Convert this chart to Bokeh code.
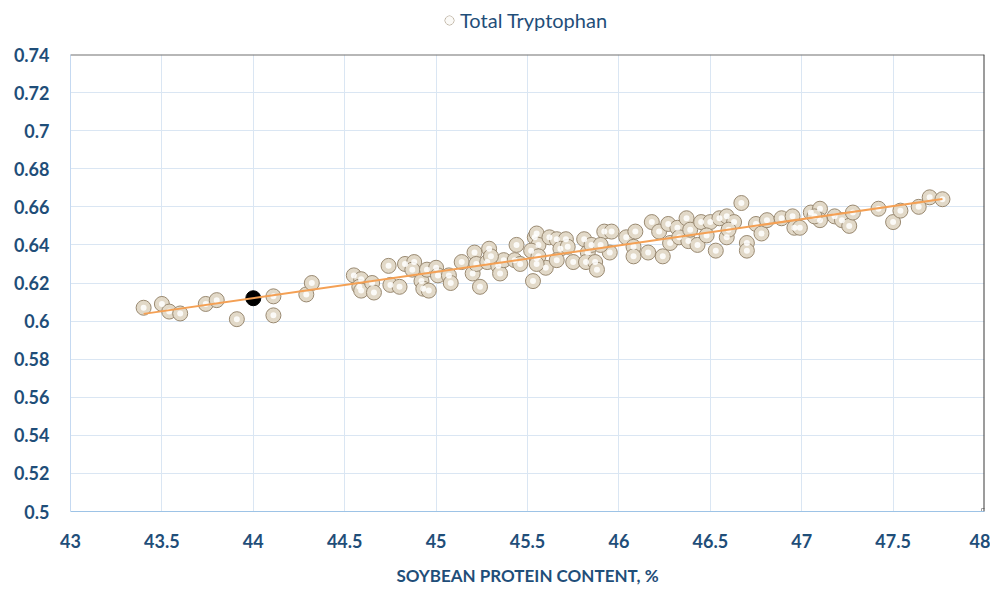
from bokeh.plotting import figure
from bokeh.models import FixedTicker, Span, Legend, LegendItem
from bokeh.layouts import column
from bokeh.embed import file_html
from bokeh.resources import INLINE
import numpy as np

# ---- data ----
protein = [
    43.40, 43.50, 43.54, 43.60, 43.74, 43.80, 43.91, 44.11, 44.11, 44.29, 44.32,
    44.55, 44.59, 44.58, 44.59, 44.65, 44.66, 44.74, 44.75, 44.80, 44.83, 44.88,
    44.87, 44.92, 44.93, 44.96, 44.95, 45.00, 45.01, 45.07, 45.08, 45.14, 45.20,
    45.21, 45.22, 45.24, 45.29, 45.28, 45.34, 45.35, 45.37, 45.43, 45.44, 45.46,
    45.53, 45.54, 45.55, 45.56, 45.55, 45.60, 45.30, 45.52, 45.56, 45.55, 45.62,
    45.66, 45.71, 45.68, 45.66, 45.72, 45.75, 45.81, 45.83, 45.85, 45.82, 45.87,
    45.88, 45.92, 45.96, 45.95, 45.90, 46.04, 46.09, 46.08, 46.08, 46.16, 46.24,
    46.18, 46.22, 46.27, 46.28, 46.32, 46.33, 46.37, 46.38, 46.43, 46.39, 46.45,
    46.50, 46.48, 46.53, 46.55, 46.59, 46.59, 46.63, 46.60, 46.67, 46.70, 46.70,
    46.75, 46.78, 46.81, 46.89, 46.95, 46.96, 46.99, 47.05, 47.10, 47.10, 47.07,
    47.18, 47.22, 47.26, 47.28, 47.42, 47.50, 47.54, 47.64, 47.70, 47.77,
]
tryptophan = [
    0.607, 0.609, 0.605, 0.604, 0.609, 0.611, 0.601, 0.613, 0.603, 0.614, 0.620,
    0.624, 0.622, 0.618, 0.616, 0.620, 0.615, 0.629, 0.619, 0.618, 0.630, 0.631,
    0.627, 0.621, 0.617, 0.616, 0.627, 0.628, 0.624, 0.624, 0.620, 0.631, 0.625,
    0.636, 0.630, 0.618, 0.638, 0.631, 0.629, 0.625, 0.632, 0.632, 0.640, 0.630,
    0.621, 0.644, 0.646, 0.640, 0.633, 0.628, 0.634, 0.637, 0.634, 0.630, 0.644,
    0.643, 0.643, 0.638, 0.632, 0.639, 0.631, 0.643, 0.636, 0.640, 0.631, 0.631,
    0.627, 0.647, 0.647, 0.636, 0.640, 0.644, 0.647, 0.639, 0.634, 0.636, 0.634,
    0.652, 0.647, 0.651, 0.641, 0.649, 0.644, 0.654, 0.642, 0.640, 0.648, 0.652,
    0.652, 0.645, 0.637, 0.654, 0.655, 0.644, 0.652, 0.648, 0.662, 0.641, 0.637,
    0.651, 0.646, 0.653, 0.654, 0.655, 0.649, 0.649, 0.657, 0.659, 0.653, 0.655,
    0.655, 0.653, 0.650, 0.657, 0.659, 0.652, 0.658, 0.660, 0.665, 0.664,
]
highlight_protein = [44.00]
highlight_tryptophan = [0.612]

series_name = "Total Tryptophan"
x_title = "SOYBEAN PROTEIN CONTENT, %"
x_tick_labels = ["43", "43.5", "44", "44.5", "45", "45.5", "46", "46.5", "47", "47.5", "48"]
y_tick_labels = ["0.5", "0.52", "0.54", "0.56", "0.58", "0.6", "0.62", "0.64",
                 "0.66", "0.68", "0.7", "0.72", "0.74"]

x_ticks = [int(s) if "." not in s else float(s) for s in x_tick_labels]
y_ticks = [float(s) for s in y_tick_labels]

NAVY = "#1F4E79"
FONT = "Lato"
BEAD = dict(fill_color="#E2D9C8", line_color="#9A8A72", line_width=1)
SHINE = dict(fill_color="#FFFFFF", fill_alpha=0.85, line_color=None)

# ---------------- main chart ----------------
p = figure(width=990, height=548, x_range=(43, 48), y_range=(0.5, 0.74),
           output_backend="svg", toolbar_location=None,
           min_border_left=70, min_border_right=6, min_border_top=14, min_border_bottom=76)
p.outline_line_color = None
p.background_fill_color = "white"

p.xaxis.ticker = FixedTicker(ticks=x_ticks)
p.yaxis.ticker = FixedTicker(ticks=y_ticks)
p.xaxis.major_label_overrides = {t: s for t, s in zip(x_ticks, x_tick_labels)}
p.yaxis.major_label_overrides = {t: s for t, s in zip(y_ticks, y_tick_labels)}
for ax in (p.xaxis, p.yaxis):
    ax.major_tick_line_color = None
    ax.minor_tick_line_color = None
    ax.major_tick_out = 0
    ax.major_tick_in = 0
    ax.major_label_text_font = FONT
    ax.major_label_text_font_style = "bold"
    ax.major_label_text_font_size = "18px"
    ax.major_label_text_color = NAVY
p.yaxis.axis_line_color = "#C5D9F1"
p.xaxis.axis_line_color = "#9DC3E6"
p.yaxis.major_label_standoff = 21
p.xaxis.major_label_standoff = 22
p.xaxis.axis_label = x_title
p.xaxis.axis_label_text_font = FONT
p.xaxis.axis_label_text_font_style = "bold"
p.xaxis.axis_label_text_font_size = "17px"
p.xaxis.axis_label_text_color = NAVY
p.xaxis.axis_label_standoff = 14

p.xgrid.ticker = FixedTicker(ticks=x_ticks)
p.ygrid.ticker = FixedTicker(ticks=y_ticks)
p.xgrid.grid_line_color = "#DAE6F3"
p.ygrid.grid_line_color = "#DAE6F3"

p.add_layout(Span(location=0.74, dimension="width", line_color="#707070", line_width=2))
p.add_layout(Span(location=48, dimension="height", line_color="#3A3A3A", line_width=2))

p.scatter(protein, tryptophan, size=15, **BEAD)
p.scatter(protein, tryptophan, size=6, **SHINE)

p.scatter(highlight_protein, highlight_tryptophan, size=15,
          fill_color="black", line_color="black")

coef = np.polyfit(protein, tryptophan, 1)
xs = np.array([min(protein), max(protein)])
p.line(xs, np.polyval(coef, xs), line_color="#F4A054", line_width=2)

p.scatter([48], [0.5], marker="square", size=6, fill_color="white", line_color="#A0A0A0")

# ---------------- legend strip ----------------
h = figure(width=990, height=40, x_range=(0, 1), y_range=(0, 1),
           output_backend="svg", toolbar_location=None,
           min_border_left=0, min_border_right=0, min_border_top=0, min_border_bottom=0)
h.axis.visible = False
h.grid.visible = False
h.outline_line_color = None
# legend proxies (placed outside the visible range; only their look is used)
lg_outer = h.scatter([-5], [-5], size=13, **BEAD)
lg_inner = h.scatter([-5], [-5], size=5, **SHINE)
legend = Legend(items=[LegendItem(label=series_name, renderers=[lg_outer, lg_inner])],
                location=(368, 8), orientation="horizontal",
                border_line_color=None, background_fill_alpha=0,
                padding=0, margin=0, glyph_width=22, glyph_height=22,
                label_standoff=0, label_height=22,
                label_text_font=FONT, label_text_font_size="20px",
                label_text_color=NAVY)
h.add_layout(legend)

layout = column(h, p, spacing=0)
open("out.html", "w").write(file_html(layout, INLINE))
